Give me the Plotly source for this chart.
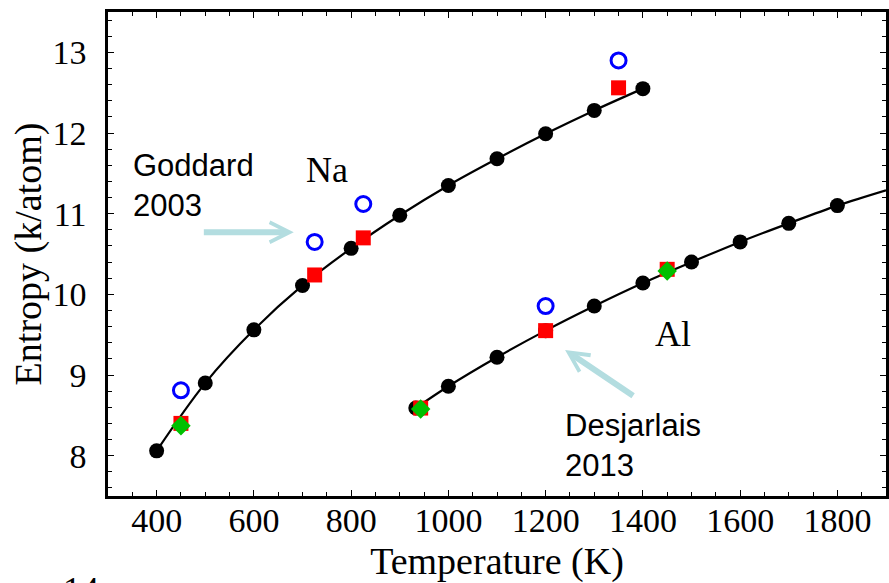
import plotly.graph_objects as go

# ---- data ----
na_T = [400, 500, 600, 700, 800, 900, 1000, 1100, 1200, 1300, 1400]
na_S = [8.06, 8.90, 9.56, 10.11, 10.57, 10.98, 11.35, 11.68, 11.99, 12.28, 12.55]

al_T = [933, 1000, 1100, 1200, 1300, 1400, 1500, 1600, 1700, 1800]
al_S = [8.59, 8.86, 9.22, 9.55, 9.855, 10.14, 10.40, 10.65, 10.88, 11.10]
al_fit_T = [933, 1000, 1100, 1200, 1300, 1400, 1500, 1600, 1700, 1800, 1900]
al_fit_S = [8.59, 8.86, 9.22, 9.55, 9.855, 10.14, 10.40, 10.65, 10.88, 11.10, 11.29]

red_T = [450, 725, 825, 1350, 943, 1200, 1450]
red_S = [8.40, 10.24, 10.70, 12.56, 8.59, 9.55, 10.31]

blue_T = [450, 725, 825, 1350, 1200]
blue_S = [8.81, 10.65, 11.12, 12.90, 9.855]

green_T = [450, 943, 1450]
green_S = [8.37, 8.58, 10.29]

x_ticks = [400, 600, 800, 1000, 1200, 1400, 1600, 1800]
y_ticks = [8, 9, 10, 11, 12, 13]

SERIF = "Liberation Serif, Times New Roman, serif"
SANS = "Liberation Sans, Arial, sans-serif"
ARROW = "#b3dde0"

fig = go.Figure()

# fitted curves
fig.add_trace(go.Scatter(x=na_T, y=na_S, mode="lines", line=dict(color="black", width=2.2, shape="spline"),
                         showlegend=False, hoverinfo="skip"))
fig.add_trace(go.Scatter(x=al_fit_T, y=al_fit_S, mode="lines", line=dict(color="black", width=2.2, shape="spline"),
                         showlegend=False, hoverinfo="skip"))
# black points
fig.add_trace(go.Scatter(x=na_T + al_T, y=na_S + al_S, mode="markers",
                         marker=dict(symbol="circle", size=15, color="black"), showlegend=False))
# red squares
fig.add_trace(go.Scatter(x=red_T, y=red_S, mode="markers",
                         marker=dict(symbol="square", size=15, color="#ff0000"), showlegend=False))
# green diamonds
fig.add_trace(go.Scatter(x=green_T, y=green_S, mode="markers",
                         marker=dict(symbol="diamond", size=15, color="#00c000"), showlegend=False))
# blue open circles
fig.add_trace(go.Scatter(x=blue_T, y=blue_S, mode="markers",
                         marker=dict(symbol="circle-open", size=15, color="#0000ff", line=dict(width=3)),
                         showlegend=False))

axis_common = dict(
    showgrid=False, zeroline=False, showline=True, linecolor="black", linewidth=2.5,
    mirror="allticks", ticks="inside", tickcolor="black", tickwidth=1.2, ticklen=6,
    tickfont=dict(family=SERIF, size=34, color="black"),
)

fig.update_layout(
    width=889, height=583,
    margin=dict(l=108, r=0, t=12, b=87),
    plot_bgcolor="white", paper_bgcolor="white",
    xaxis=dict(range=[300, 1900], tickvals=x_ticks, ticktext=[str(v) for v in x_ticks],
               minor=dict(dtick=50, tick0=0, ticks="inside", ticklen=4, tickcolor="black", tickwidth=1),
               title=dict(text="Temperature (K)", font=dict(family=SERIF, size=38, color="black"), standoff=14),
               ticklabelstandoff=-8,
               **axis_common),
    yaxis=dict(range=[7.5, 13.5], tickvals=y_ticks, ticktext=[str(v) for v in y_ticks],
               minor=dict(dtick=0.2, tick0=0, ticks="inside", ticklen=4, tickcolor="black", tickwidth=1),
               title=dict(text="Entropy (k/atom)", font=dict(family=SERIF, size=38, color="black"), standoff=0),
               ticklabelstandoff=12,
               **axis_common),
)

# text labels
fig.add_annotation(x=750, y=11.54, text="Na", showarrow=False, font=dict(family=SERIF, size=36, color="black"))
fig.add_annotation(x=1461, y=9.51, text="Al", showarrow=False, font=dict(family=SERIF, size=36, color="black"))
fig.add_annotation(x=347, y=11.35, text="Goddard<br>2003", showarrow=False, xanchor="left", yanchor="middle",
                   align="left", font=dict(family=SANS, size=31, color="black"))
fig.add_annotation(x=1236, y=8.12, text="Desjarlais<br>2013", showarrow=False, xanchor="left", yanchor="middle",
                   align="left", font=dict(family=SANS, size=31, color="black"))

# arrows
fig.add_annotation(x=682, y=10.77, ax=494, ay=10.77, axref="x", ayref="y", text="", showarrow=True,
                   arrowhead=5, arrowwidth=6, arrowsize=0.65, arrowcolor=ARROW)
fig.add_annotation(x=1240, y=9.31, ax=1383, ay=8.73, axref="x", ayref="y", text="", showarrow=True,
                   arrowhead=5, arrowwidth=6, arrowsize=0.65, arrowcolor=ARROW)

# partial label of the panel below
fig.add_annotation(x=-0.035, y=-0.195, xref="paper", yref="paper", text="14", showarrow=False,
                   xanchor="center", yanchor="middle", font=dict(family=SERIF, size=36, color="black"))

fig.write_html("out.html", config={"displayModeBar": False},
               post_script="document.body.style.margin='0';document.body.style.overflow='hidden';")
